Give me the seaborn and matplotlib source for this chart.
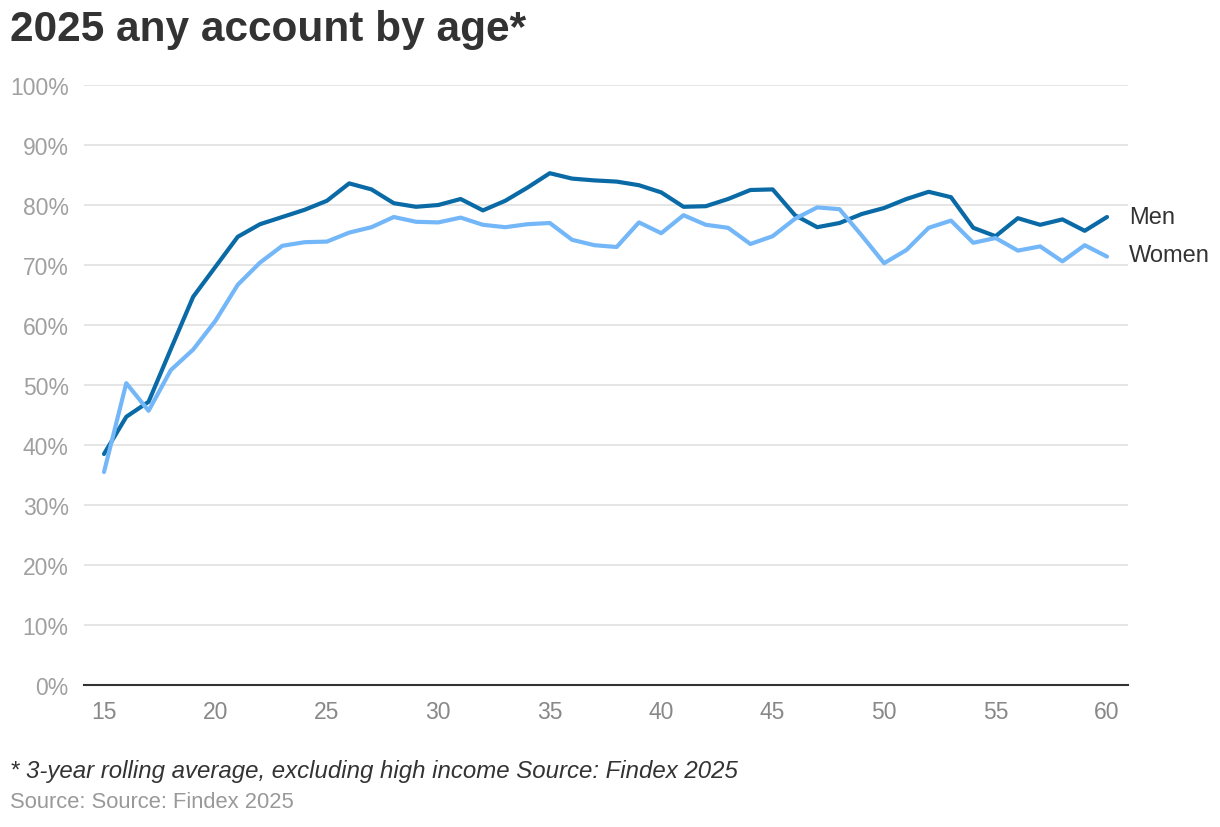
import pandas as pd
import numpy as np
import seaborn as sns
import matplotlib.pyplot as plt
from matplotlib.ticker import FuncFormatter

ages = list(range(15, 61))
men = [38.5, 44.7, 47.2, 56.0, 64.7, 69.7, 74.7, 76.8, 78.0, 79.2,
       80.7, 83.6, 82.6, 80.3, 79.7, 80.0, 81.0, 79.1, 80.7, 82.9,
       85.3, 84.4, 84.1, 83.9, 83.3, 82.1, 79.7, 79.8, 81.0, 82.5,
       82.6, 78.3, 76.3, 77.0, 78.5, 79.5, 81.0, 82.2, 81.3, 76.2,
       74.8, 77.8, 76.7, 77.6, 75.7, 78.0]
women = [35.5, 50.3, 45.7, 52.5, 55.9, 60.7, 66.7, 70.4, 73.2, 73.8,
         73.9, 75.4, 76.3, 78.0, 77.2, 77.1, 77.9, 76.7, 76.3, 76.8,
         77.0, 74.2, 73.3, 73.0, 77.1, 75.3, 78.3, 76.7, 76.2, 73.5,
         74.8, 77.7, 79.6, 79.3, 74.9, 70.3, 72.5, 76.2, 77.4, 73.7,
         74.5, 72.4, 73.1, 70.6, 73.3, 71.4]
series = ['Men', 'Women']
colors = ['#0a6aa6', '#74b7f8']

df = pd.DataFrame({'age': ages * 2,
                   'value': men + women,
                   'group': ['Men'] * len(ages) + ['Women'] * len(ages)})

sns.set_style('white')
plt.rcParams['font.family'] = ['Liberation Sans', 'DejaVu Sans']

fig = plt.figure(figsize=(12.2, 8.28), dpi=100)
ax = fig.add_axes([84 / 1220, 142 / 828, 1044 / 1220, 600 / 828])
sns.lineplot(data=df, x='age', y='value', hue='group', hue_order=series,
             palette=colors, linewidth=3, ax=ax, legend=False)

ax.set_xlim(15 - 20 / 22.29, 60 + 21 / 22.29)
ax.set_ylim(0, 100)
ax.set_yticks(range(0, 101, 10))
ax.set_xticks(range(15, 61, 5))
ax.yaxis.set_major_formatter(FuncFormatter(lambda v, p: f'{int(v)}%'))
ax.grid(axis='y', color='#e3e3e3', linewidth=1.3)
ax.set_axisbelow(True)
for s in ['top', 'right', 'left']:
    ax.spines[s].set_visible(False)
ax.spines['bottom'].set_color('#333333')
ax.spines['bottom'].set_linewidth(1.5)
ax.tick_params(axis='y', length=0, pad=11, labelsize=16.5, labelcolor='#a0a0a0')
ax.tick_params(axis='x', length=0, pad=11, labelsize=16.5, labelcolor='#888888')
ax.set_xlabel('')
ax.set_ylabel('')

# end labels
ax.text(61.0, men[-1], 'Men', fontsize=17, color='#333333', va='center')
ax.text(61.0, women[-1] + 0.3, 'Women', fontsize=17, color='#333333', va='center')
for t in ax.texts:
    t.set_clip_on(False)

fig.text(10 / 1220, 1 - 30 / 828, '2025 any account by age*', fontsize=30.5,
         fontweight='bold', color='#333333', va='center', ha='left')
fig.text(10 / 1220, 1 - 772 / 828,
         '* 3-year rolling average, excluding high income Source: Findex 2025',
         fontsize=17.3, style='italic', color='#333333', va='center')
fig.text(10 / 1220, 1 - 803 / 828, 'Source: Source: Findex 2025',
         fontsize=15.8, color='#999999', va='center')

fig.savefig('out.png', dpi=100)
